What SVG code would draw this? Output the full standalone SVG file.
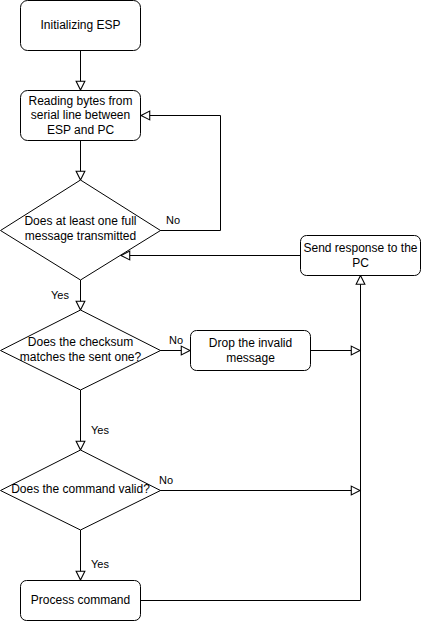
<svg xmlns="http://www.w3.org/2000/svg" width="421" height="621" viewBox="0 0 421 621">
<style>
.box{fill:#fff;stroke:#000;stroke-width:1}
.t{font-family:"Liberation Sans",Arial,sans-serif;font-size:12px;fill:#000;text-anchor:middle;dominant-baseline:central}
.l{font-family:"Liberation Sans",Arial,sans-serif;font-size:11px;fill:#000;text-anchor:middle;dominant-baseline:central}
.c{fill:none;stroke:#000;stroke-width:1}
</style>
<defs>
<marker id="arr" markerUnits="userSpaceOnUse" markerWidth="12" markerHeight="12" viewBox="-1 -1 11 10" refX="8" refY="4" orient="auto">
<path d="M0,0 L8,4 L0,8 Z" fill="#fff" stroke="#000" stroke-width="1"/>
</marker>
</defs>
<g id="connectors">
<path class="c" d="M80.5,50.5 V90" marker-end="url(#arr)"/>
<path class="c" d="M80.5,140.5 V180" marker-end="url(#arr)"/>
<path class="c" d="M160,230.5 H220.5 V115.5 H141" marker-end="url(#arr)"/>
<path class="c" d="M80.5,280 V310" marker-end="url(#arr)"/>
<path class="c" d="M160,350.5 H190" marker-end="url(#arr)"/>
<path class="c" d="M310.5,350.5 H360" marker-end="url(#arr)"/>
<path class="c" d="M80.5,390 V450" marker-end="url(#arr)"/>
<path class="c" d="M160,490.5 H360" marker-end="url(#arr)"/>
<path class="c" d="M80.5,530 V580" marker-end="url(#arr)"/>
<path class="c" d="M140.5,600.5 H360.5 V275.5" marker-end="url(#arr)"/>
<path class="c" d="M300.5,255.5 H121" marker-end="url(#arr)"/>
<text class="l" x="173" y="220">No</text>
<text class="l" x="60" y="295">Yes</text>
<text class="l" x="176" y="340">No</text>
<text class="l" x="100" y="430">Yes</text>
<text class="l" x="166" y="480">No</text>
<text class="l" x="100" y="564">Yes</text>
</g>
<g id="init">
<rect class="box" x="20.5" y="0.5" width="120" height="50" rx="7"/>
<text class="t" x="80.5" y="25">Initializing ESP</text>
</g>
<g id="reading">
<rect class="box" x="20.5" y="90.5" width="120" height="50" rx="7"/>
<text class="t" x="80.5" y="100.5">Reading bytes from</text>
<text class="t" x="80.5" y="115">serial line between</text>
<text class="t" x="80.5" y="129.5">ESP and PC</text>
</g>
<g id="dec1">
<path class="box" d="M80.5,180 L160.5,230.5 L80.5,280 L0.5,230.5 Z"/>
<text class="t" x="80.5" y="221">Does at least one full</text>
<text class="t" x="80.5" y="235.5">message transmitted</text>
</g>
<g id="send">
<rect class="box" x="300.5" y="235.5" width="120" height="40" rx="6"/>
<text class="t" x="360.5" y="248">Send response to the</text>
<text class="t" x="360.5" y="262.5">PC</text>
</g>
<g id="dec2">
<path class="box" d="M80.5,310 L160.5,350.5 L80.5,390 L0.5,350.5 Z"/>
<text class="t" x="80.5" y="342">Does the checksum</text>
<text class="t" x="80.5" y="356.5">matches the sent one?</text>
</g>
<g id="drop">
<rect class="box" x="190.5" y="330.5" width="120" height="40" rx="6"/>
<text class="t" x="250.5" y="343">Drop the invalid</text>
<text class="t" x="250.5" y="357.5">message</text>
</g>
<g id="dec3">
<path class="box" d="M80.5,450 L160.5,490.5 L80.5,530 L0.5,490.5 Z"/>
<text class="t" x="80.5" y="489">Does the command valid?</text>
</g>
<g id="process">
<rect class="box" x="20.5" y="580.5" width="120" height="40" rx="6"/>
<text class="t" x="80.5" y="600">Process command</text>
</g>
</svg>
